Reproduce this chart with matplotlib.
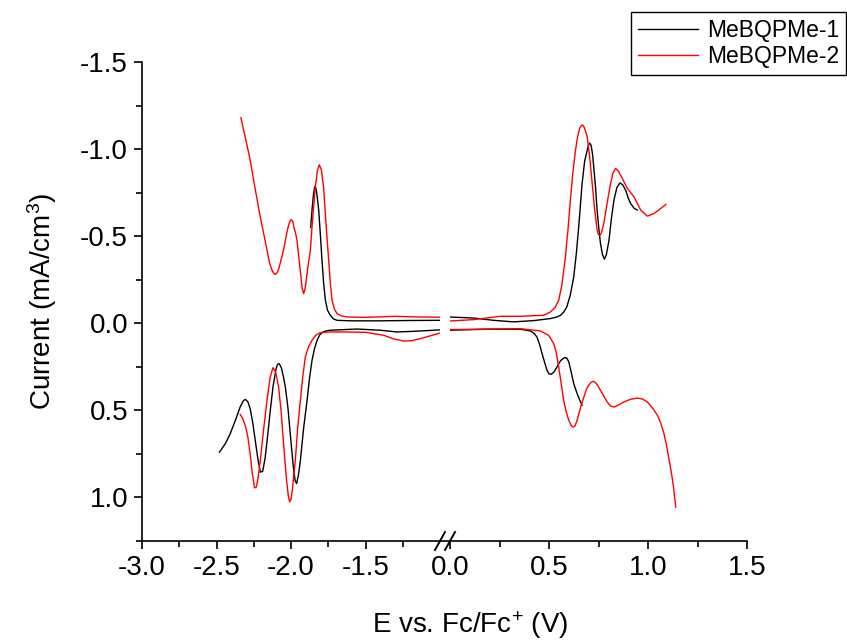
import matplotlib
matplotlib.use("Agg")
import matplotlib.pyplot as plt
from matplotlib.lines import Line2D
from matplotlib.ticker import MultipleLocator, FixedLocator

plt.rcParams['font.family'] = ['Liberation Sans', 'DejaVu Sans']
plt.rcParams['mathtext.fontset'] = 'custom'
plt.rcParams['mathtext.rm'] = 'Liberation Sans'
plt.rcParams['mathtext.it'] = 'Liberation Sans:italic'
plt.rcParams['mathtext.bf'] = 'Liberation Sans:bold'

# ---------------- data ----------------
series_names = ["MeBQPMe-1", "MeBQPMe-2"]
series_colors = ["black", "red"]

# MeBQPMe-1, left (negative potential) window
b_left_up_x = [-1.868, -1.858, -1.848, -1.84, -1.834, -1.826, -1.814, -1.803, -1.792, -1.78, -1.769,
               -1.755, -1.736, -1.715, -1.691, -1.6, -1.4, -1.2, -1.0]
b_left_up_y = [-0.55, -0.66, -0.75, -0.785, -0.78, -0.74, -0.65, -0.51, -0.362, -0.22, -0.132,
               -0.075, -0.046, -0.025, -0.017, -0.014, -0.014, -0.016, -0.017]
b_left_dn_x = [-2.48, -2.44, -2.408, -2.37, -2.341, -2.32, -2.307, -2.29, -2.274, -2.257, -2.24, -2.222,
               -2.206, -2.19, -2.173, -2.156, -2.139, -2.12, -2.1, -2.09, -2.079, -2.065, -2.05,
               -2.038, -2.02, -2.005, -1.985, -1.972, -1.962, -1.95, -1.937, -1.915, -1.892, -1.875,
               -1.859, -1.842, -1.825, -1.808, -1.792, -1.765, -1.736, -1.556, -1.4,
               -1.287, -1.15, -1.0]
b_left_dn_y = [0.74, 0.69, 0.634, 0.55, 0.48, 0.445, 0.437, 0.45, 0.49, 0.57, 0.672, 0.78,
               0.855, 0.85, 0.77, 0.64, 0.5, 0.36, 0.26, 0.235, 0.232, 0.255, 0.31,
               0.366, 0.49, 0.634, 0.82, 0.905, 0.92, 0.87, 0.787, 0.6, 0.442, 0.31,
               0.213, 0.145, 0.098, 0.068, 0.053, 0.044, 0.04, 0.033, 0.04,
               0.05, 0.045, 0.038]
# MeBQPMe-1, right (positive potential) window
b_right_up_x = [0.0, 0.118, 0.22, 0.32, 0.42, 0.507, 0.54, 0.558, 0.575, 0.59, 0.607, 0.625, 0.638, 0.65,
                0.667, 0.68, 0.693, 0.7, 0.706, 0.713, 0.72, 0.726, 0.735, 0.743, 0.752, 0.76, 0.77,
                0.78, 0.79, 0.803, 0.815, 0.828, 0.843, 0.858, 0.872, 0.887, 0.9, 0.912, 0.93, 0.946]
b_right_up_y = [-0.036, -0.03, -0.017, -0.008, -0.015, -0.027, -0.036, -0.046, -0.065, -0.094, -0.16, -0.266,
                -0.40, -0.553, -0.80, -0.93, -0.994, -1.025, -1.035, -1.02, -0.97, -0.898, -0.78, -0.65,
                -0.54, -0.458, -0.395, -0.368, -0.395, -0.477, -0.60, -0.707, -0.78, -0.806, -0.795,
                -0.764, -0.72, -0.688, -0.66, -0.65]
b_right_dn_x = [0.0, 0.186, 0.355, 0.405, 0.425, 0.439, 0.452, 0.465, 0.478, 0.49, 0.5, 0.51, 0.525, 0.54,
                0.558, 0.578, 0.59, 0.6, 0.612, 0.625, 0.642, 0.655, 0.667]
b_right_dn_y = [0.04, 0.034, 0.034, 0.044, 0.058, 0.079, 0.12, 0.174, 0.225, 0.27, 0.29, 0.293, 0.28, 0.251,
                0.215, 0.197, 0.2, 0.222, 0.28, 0.347, 0.404, 0.44, 0.471]

# MeBQPMe-2, left window
r_left_up_x = [-2.336, -2.305, -2.274, -2.24, -2.206, -2.18, -2.161, -2.145, -2.13, -2.118, -2.106,
               -2.093, -2.08, -2.065, -2.05, -2.035, -2.02, -2.008, -1.998, -1.988, -1.98, -1.97,
               -1.96, -1.948, -1.935, -1.925, -1.915, -1.905, -1.893, -1.882, -1.87, -1.855, -1.837,
               -1.823, -1.81, -1.796, -1.781, -1.765, -1.747, -1.735, -1.724, -1.708, -1.691, -1.66,
               -1.623, -1.5, -1.3, -1.15, -1.0]
r_left_up_y = [-1.18, -1.06, -0.937, -0.77, -0.61, -0.50, -0.42, -0.35, -0.31, -0.29, -0.28,
               -0.29, -0.32, -0.37, -0.42, -0.49, -0.55, -0.585, -0.595, -0.585, -0.55, -0.52,
               -0.477, -0.38, -0.28, -0.2, -0.17, -0.2, -0.28, -0.35, -0.42, -0.6, -0.78,
               -0.875, -0.91, -0.88, -0.78, -0.57, -0.36, -0.22, -0.13, -0.08, -0.056, -0.042,
               -0.036, -0.034, -0.04, -0.036, -0.035]
r_left_dn_x = [-2.341, -2.325, -2.307, -2.29, -2.274, -2.26, -2.245, -2.232, -2.22, -2.206, -2.185,
               -2.161, -2.14, -2.121, -2.103, -2.083, -2.067, -2.05, -2.03, -2.018, -2.009, -2.0,
               -1.99, -1.971, -1.955, -1.937, -1.92, -1.904, -1.882, -1.859, -1.835, -1.808, -1.75,
               -1.623, -1.5, -1.377, -1.31, -1.243, -1.19, -1.13, -1.0]
r_left_dn_y = [0.523, 0.545, 0.586, 0.65, 0.749, 0.86, 0.945, 0.94, 0.88, 0.787, 0.62,
               0.442, 0.31, 0.255, 0.28, 0.366, 0.5, 0.69, 0.9, 0.99, 1.025, 1.01,
               0.95, 0.787, 0.6, 0.442, 0.3, 0.194, 0.135, 0.098, 0.07, 0.055, 0.05,
               0.05, 0.052, 0.069, 0.09, 0.102, 0.1, 0.088, 0.056]
# MeBQPMe-2, right window
r_right_up_x = [0.0, 0.118, 0.253, 0.355, 0.473, 0.507, 0.53, 0.549, 0.565, 0.583, 0.596, 0.608, 0.62,
                0.634, 0.645, 0.655, 0.663, 0.671, 0.68, 0.693, 0.705, 0.718, 0.73, 0.743, 0.75, 0.757,
                0.765, 0.777, 0.795, 0.811, 0.824, 0.836, 0.85, 0.87, 0.896, 0.929, 0.963, 0.997, 1.03,
                1.06, 1.09]
r_right_up_y = [-0.013, -0.021, -0.04, -0.04, -0.046, -0.065, -0.09, -0.132, -0.22, -0.381, -0.54, -0.707, -0.86,
                -0.994, -1.075, -1.119, -1.135, -1.138, -1.12, -1.071, -0.96, -0.803, -0.66, -0.534,
                -0.508, -0.506, -0.52, -0.573, -0.70, -0.803, -0.865, -0.889, -0.875, -0.832, -0.774,
                -0.726, -0.65, -0.615, -0.63, -0.655, -0.682]
r_right_dn_x = [0.0, 0.355, 0.456, 0.498, 0.524, 0.537, 0.549, 0.562, 0.574, 0.587, 0.6, 0.612, 0.622,
                0.632, 0.642, 0.66, 0.676, 0.69, 0.701, 0.713, 0.726, 0.742, 0.76, 0.794, 0.81, 0.828,
                0.85, 0.878, 0.91, 0.946, 0.972, 0.997, 1.025, 1.048, 1.065, 1.081, 1.095, 1.107,
                1.12, 1.129, 1.14]
r_right_dn_y = [0.036, 0.031, 0.044, 0.069, 0.117, 0.17, 0.251, 0.35, 0.442, 0.51, 0.557, 0.588, 0.596,
                0.588, 0.557, 0.48, 0.424, 0.375, 0.356, 0.338, 0.333, 0.35, 0.385, 0.452, 0.474, 0.481,
                0.47, 0.452, 0.437, 0.429, 0.435, 0.452, 0.49, 0.529, 0.575, 0.634, 0.71, 0.787,
                0.87, 0.941, 1.056]

left_xlim = (-3.0, -1.0)
right_xlim = (0.0, 1.5)
ylim = (1.25, -1.5)
left_xticks = [-3.0, -2.5, -2.0, -1.5]
right_xticks = [0.0, 0.5, 1.0, 1.5]
yticks = [-1.5, -1.0, -0.5, 0.0, 0.5, 1.0]

# ---------------- figure ----------------
W, H = 847, 643
fig = plt.figure(figsize=(W / 100, H / 100), dpi=100)

def fx(px):
    return px / W

def fy(py):
    return 1 - py / H

ax_l = fig.add_axes([fx(142), fy(541), fx(440) - fx(142), fy(62) - fy(541)])
ax_r = fig.add_axes([fx(450), fy(541), fx(747) - fx(450), fy(62) - fy(541)])

lw = 1.0
ax_l.plot(b_left_up_x, b_left_up_y, color=series_colors[0], lw=lw)
ax_l.plot(b_left_dn_x, b_left_dn_y, color=series_colors[0], lw=lw)
ax_l.plot(r_left_up_x, r_left_up_y, color=series_colors[1], lw=lw)
ax_l.plot(r_left_dn_x, r_left_dn_y, color=series_colors[1], lw=lw)
ax_r.plot(b_right_up_x, b_right_up_y, color=series_colors[0], lw=lw)
ax_r.plot(b_right_dn_x, b_right_dn_y, color=series_colors[0], lw=lw)
ax_r.plot(r_right_up_x, r_right_up_y, color=series_colors[1], lw=lw)
ax_r.plot(r_right_dn_x, r_right_dn_y, color=series_colors[1], lw=lw)

for ax in (ax_l, ax_r):
    ax.set_ylim(*ylim)
    for s in ("top", "right"):
        ax.spines[s].set_visible(False)
    ax.spines["bottom"].set_linewidth(1.2)
    ax.spines["left"].set_linewidth(1.2)
    ax.tick_params(which="major", direction="out", length=6, width=1.2, labelsize=20, pad=4)
    ax.tick_params(which="minor", direction="out", length=4, width=1.2)
    ax.patch.set_alpha(0)

ax_l.set_xlim(*left_xlim)
ax_l.xaxis.set_major_locator(FixedLocator(left_xticks))
ax_l.xaxis.set_minor_locator(FixedLocator([-2.75, -2.25, -1.75, -1.25]))
ax_l.set_xticklabels([f"{v:.1f}" for v in left_xticks])
ax_l.set_yticks(yticks)
ax_l.set_yticklabels([f"{v:.1f}" for v in yticks])
ax_l.yaxis.set_minor_locator(MultipleLocator(0.25))
ax_l.set_ylabel("Current (mA/cm$^{3}$)", fontsize=20, labelpad=15)

ax_r.set_xlim(*right_xlim)
ax_r.xaxis.set_major_locator(FixedLocator(right_xticks))
ax_r.xaxis.set_minor_locator(FixedLocator([0.25, 0.75, 1.25]))
ax_r.set_xticklabels([f"{v:.1f}" for v in right_xticks])
ax_r.spines["left"].set_visible(False)
ax_r.set_yticks([])

# connect the bottom axis across the break and draw break marks
fig.add_artist(Line2D([fx(440), fx(450)], [fy(541), fy(541)], color="black", lw=1.2))
for x0 in (435, 445):
    fig.add_artist(Line2D([fx(x0), fx(x0 + 10)], [fy(550), fy(532)], color="black", lw=1.4))

fig.text(fx(470), fy(625), "E vs. Fc/Fc$^{+}$ (V)", ha="center", va="center", fontsize=20)

handles = [Line2D([], [], color=c, lw=lw) for c in series_colors]
leg = fig.legend(handles, series_names, loc="upper right",
                 bbox_to_anchor=(fx(846), fy(12)), fontsize=16.5, frameon=True, fancybox=False,
                 edgecolor="black", framealpha=1, borderpad=0.3, handlelength=2.6,
                 handletextpad=0.4, labelspacing=0.15, borderaxespad=0)
leg.get_frame().set_linewidth(1.0)

fig.savefig("out.png", dpi=100)
